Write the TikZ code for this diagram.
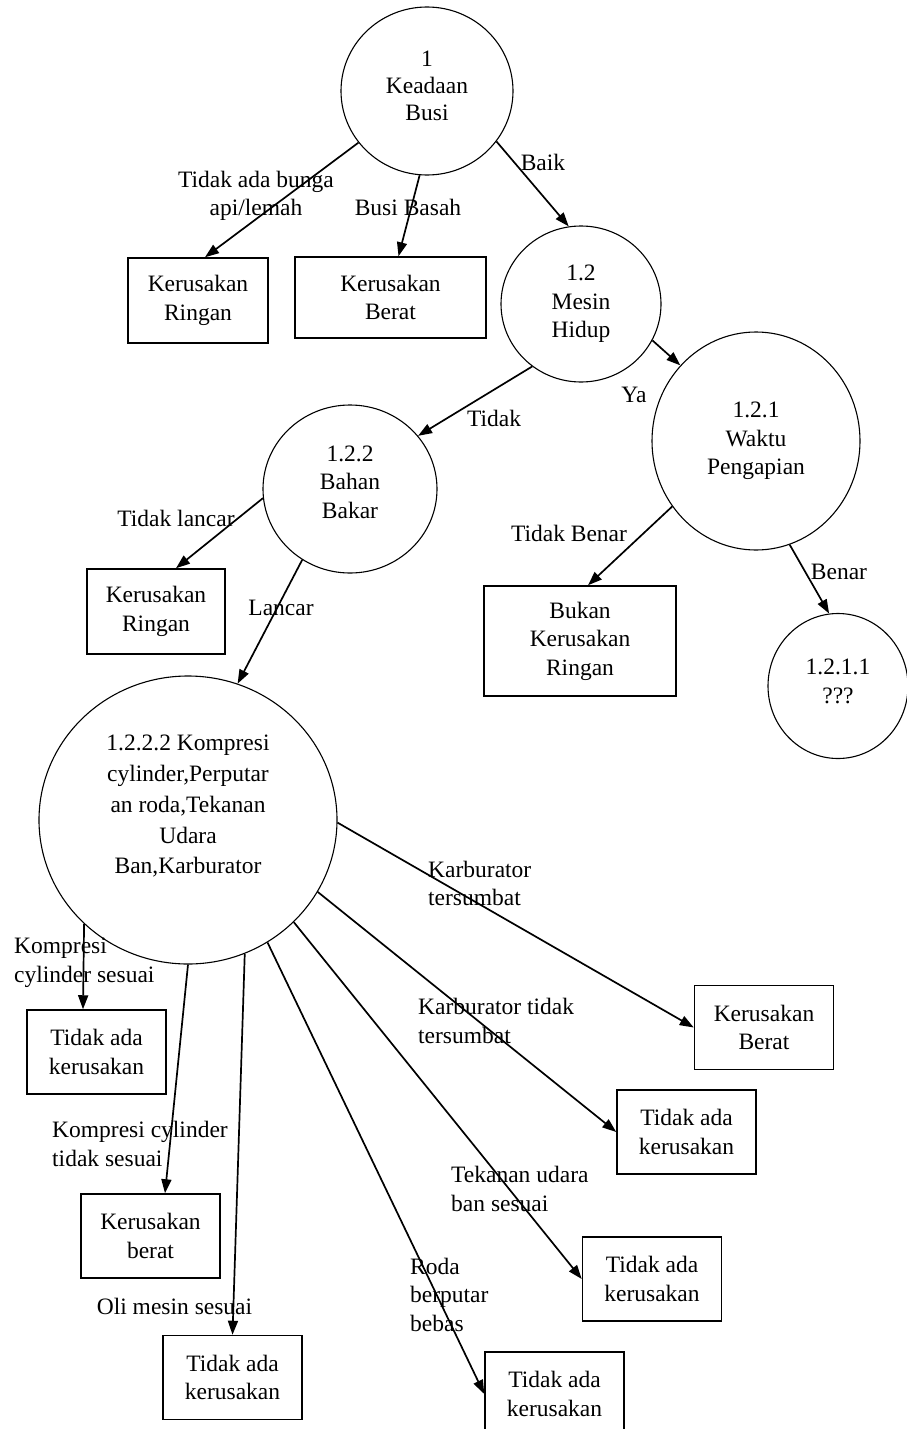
\documentclass[tikz,border=0pt]{standalone}
\usepackage{fontspec}
\setmainfont{Liberation Serif}
\usetikzlibrary{arrows.meta,shapes.geometric}

\begin{document}
\begin{tikzpicture}
[x=1pt,y=-1pt,align=center,font=\fontsize{23.5}{28.5}\selectfont]
\tikzstyle{proc}=[draw,ellipse,inner sep=0pt,line width=1.1pt]
\tikzstyle{plain}=[draw,rectangle,inner sep=0pt,line width=1.5pt,minimum width=139pt,minimum height=84pt]
\tikzstyle{arr}=[-{Triangle[length=14pt,width=10pt]},line width=1.7pt]
\tikzstyle{lbl}=[inner sep=0pt]

\useasboundingbox (0,0) rectangle (906,1429);

\draw node [proc,minimum width=172pt,minimum height=168pt,font=\fontsize{23.5}{27}\selectfont,text depth=10pt] (p1) at (427,91) {1\\Keadaan\\Busi};
\draw node [proc,minimum width=160pt,minimum height=156pt] (p12) at (581,304) {1.2\\Mesin\\Hidup};
\draw node [proc,minimum width=174pt,minimum height=168pt,text depth=14pt] (p122) at (350,489) {1.2.2\\Bahan\\Bakar};
\draw node [proc,minimum width=208pt,minimum height=218pt] (p121) at (756,441) {1.2.1\\Waktu\\Pengapian};
\draw node [proc,minimum width=140pt,minimum height=145pt,text depth=10pt] (p1211) at (838,686) {1.2.1.1\\???};
\draw node [proc,minimum width=298pt,minimum height=288pt,font=\fontsize{23.5}{30.75}\selectfont,text depth=31pt] (p1222) at (188,820) {1.2.2.2 Kompresi\\cylinder,Perputar\\an roda,Tekanan\\Udara\\Ban,Karburator};

\draw node [plain,minimum width=140pt,minimum height=85pt] (kr1) at (198,300.5) {Kerusakan\\Ringan};
\draw node [plain,minimum width=191pt,minimum height=81pt] (kb1) at (390.5,297.5) {Kerusakan\\Berat};
\draw node [plain,minimum width=138pt,minimum height=85pt] (kr2) at (156,611.5) {Kerusakan\\Ringan};
\draw node [plain,minimum width=192pt,minimum height=110pt] (bk) at (580,641) {Bukan\\Kerusakan\\Ringan};

\draw node [plain] (t1) at (96.5,1052) {Tidak ada\\kerusakan};
\draw node [plain] (kb2) at (150.5,1236) {Kerusakan\\berat};
\draw node [plain] (t2) at (232.5,1377.5) {Tidak ada\\kerusakan};
\draw node [plain] (t3) at (554.5,1394) {Tidak ada\\kerusakan};
\draw node [plain] (t4) at (652,1279) {Tidak ada\\kerusakan};
\draw node [plain] (t5) at (686.5,1132) {Tidak ada\\kerusakan};
\draw node [plain] (kb3) at (764,1027.5) {Kerusakan\\Berat};

\draw [arr] (p1.217) -- ([xshift=7pt]kr1.north);
\draw [arr] (p1.265) -- ([xshift=8pt]kb1.north);
\draw [arr] (p1.324) -- (p12.99);
\draw [arr] (p12.232) -- (p122.38);
\draw [arr] (p12.333) -- (p121.135);
\draw [arr] (p122.186) -- ([xshift=20pt]kr2.north);
\draw [arr] (p122.236) -- (p1222.70);
\draw [arr] (p121.218) -- ([xshift=8pt]bk.north);
\draw [arr] (p121.288) -- (p1211.97);

\draw [arr] (p1222.225) -- ([xshift=-13.5pt]t1.north);
\draw [arr] (p1222.270) -- ([xshift=14.5pt]kb2.north);
\draw [arr] (p1222.293) -- (t2.north);
\draw [arr] (p1222.303) -- (t3.west);
\draw [arr] (p1222.316) -- (t4.west);
\draw [arr] (p1222.331) -- (t5.west);
\draw [arr] (p1222.359) -- (kb3.west);

\node [lbl] (l1) at (256,196) {Tidak ada bunga\\api/lemah};
\node [lbl] (l2) at (408,207) {Busi Basah};
\node [lbl] (l3) at (543,162) {Baik};
\node [lbl] (l4) at (494,418) {Tidak};
\node [lbl] (l5) at (634,395) {Ya};
\node [lbl] (l6) at (176,518) {Tidak lancar};
\node [lbl] (l7) at (281,608) {Lancar};
\node [lbl] (l8) at (569,533) {Tidak Benar};
\node [lbl] (l9) at (839,572) {Benar};
\node [lbl,anchor=west,align=left] (l10) at (428,883.5) {Karburator\\tersumbat};
\node [lbl,anchor=west,align=left] (l11) at (418,1021) {Karburator tidak\\tersumbat};
\node [lbl,anchor=west,align=left] (l12) at (14,962.5) {Kompresi\\cylinder sesuai};
\node [lbl,anchor=west,align=left] (l13) at (52,1144) {Kompresi cylinder\\tidak sesuai};
\node [lbl] (l14) at (174.5,1306) {Oli mesin sesuai};
\node [lbl,anchor=west,align=left] (l15) at (451,1189) {Tekanan udara\\ban sesuai};
\node [lbl,anchor=west,align=left] (l16) at (410,1294.5) {Roda\\berputar\\bebas};

\end{tikzpicture}
\end{document}
